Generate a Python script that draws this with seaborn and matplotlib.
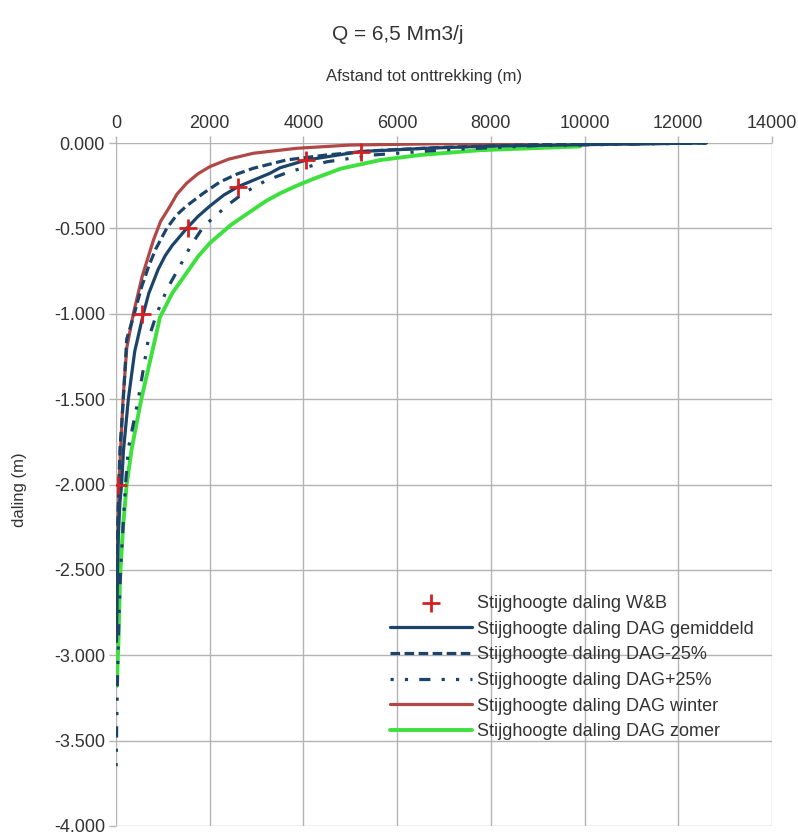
import numpy as np
import pandas as pd
import matplotlib
matplotlib.use("Agg")
import matplotlib.pyplot as plt
import seaborn as sns

# meetpunten W&B
wb_afstand = [50, 550, 1540, 2610, 4060, 5230]
wb_daling = [-2.0, -1.0, -0.5, -0.255, -0.1, -0.05]

# DAG gemiddeld
gem_afstand = [10, 25, 50, 85, 120, 160, 263, 400, 584, 700, 900, 1050, 1200, 1509, 1750, 2000,
               2300, 2611, 3288, 3501, 4060, 5209, 6700, 8000, 9906, 12600]
gem_daling = [-2.92, -2.6, -2.3, -2.1, -2.0, -1.8, -1.5, -1.22, -1.0, -0.88, -0.74, -0.66, -0.6,
              -0.5, -0.43, -0.37, -0.305, -0.255, -0.177, -0.145, -0.1, -0.05, -0.03, -0.018,
              -0.01, 0.0]

# DAG-25%
min_afstand = [5, 20, 40, 60, 85, 157, 228, 390, 550, 700, 850, 1082, 1300, 1500, 1865, 2220,
               2600, 2931, 3644, 4500, 5500, 7000, 9000, 12600]
min_daling = [-2.9, -2.5, -2.2, -2.0, -1.79, -1.5, -1.15, -1.0, -0.84, -0.72, -0.62, -0.5, -0.42,
              -0.37, -0.294, -0.228, -0.18, -0.148, -0.099, -0.07, -0.045, -0.025, -0.01, 0.0]

# DAG+25%
plus_afstand = [3, 15, 35, 60, 100, 160, 203, 263, 476, 690, 868, 1100, 1366, 1600, 1865, 2149,
                2450, 2718, 3200, 3715, 4500, 5500, 7000, 9000, 12600]
plus_daling = [-3.65, -3.4, -3.1, -2.8, -2.5, -2.2, -2.0, -1.79, -1.5, -1.15, -1.0, -0.85, -0.72,
               -0.6, -0.49, -0.42, -0.35, -0.294, -0.22, -0.167, -0.11, -0.07, -0.04, -0.015, 0.0]

# DAG winter
win_afstand = [20, 45, 80, 150, 230, 370, 560, 650, 797, 950, 1153, 1300, 1509, 1750, 2007,
               2400, 2931, 3857, 5000, 6700, 8000, 9000]
win_daling = [-2.6, -2.2, -1.9, -1.5, -1.2, -1.0, -0.78, -0.7, -0.57, -0.46, -0.37, -0.3, -0.235,
              -0.18, -0.138, -0.095, -0.06, -0.031, -0.012, -0.005, -0.002, 0.0]

# DAG zomer
zom_afstand = [15, 50, 85, 150, 228, 335, 540, 833, 939, 1200, 1509, 1750, 2007, 2450, 2931,
               3200, 3501, 3857, 4213, 4800, 5636, 6500, 7771, 9906]
zom_daling = [-3.18, -2.94, -2.55, -2.25, -2.0, -1.79, -1.5, -1.15, -1.02, -0.88, -0.76, -0.665,
              -0.585, -0.48, -0.39, -0.34, -0.295, -0.25, -0.21, -0.15, -0.1, -0.07, -0.042, -0.02]

sns.set_theme(style="white")
plt.rcParams['font.family'] = ['Liberation Sans', 'DejaVu Sans']

fig = plt.figure(figsize=(7.98, 8.36), dpi=100)
ax = fig.add_axes([116/798, 1-826/836, (772-116)/798, (826-143)/836])

blauw = "#1b4468"

sns.lineplot(x=zom_afstand, y=zom_daling, ax=ax, color="#3ee03e", lw=2.8,
             label="Stijghoogte daling DAG zomer", zorder=3)
sns.lineplot(x=win_afstand, y=win_daling, ax=ax, color="#b04848", lw=2.3,
             label="Stijghoogte daling DAG winter", zorder=3)
sns.lineplot(x=gem_afstand, y=gem_daling, ax=ax, color=blauw, lw=2.3,
             label="Stijghoogte daling DAG gemiddeld", zorder=4)
sns.lineplot(x=min_afstand, y=min_daling, ax=ax, color=blauw, lw=2.3,
             linestyle=(0, (3, 1.4)), label="Stijghoogte daling DAG-25%", zorder=4)
sns.lineplot(x=plus_afstand, y=plus_daling, ax=ax, color=blauw, lw=2.3,
             linestyle=(0, (1, 3.5, 1, 3.5, 3.5, 3.5)), label="Stijghoogte daling DAG+25%", zorder=4)
sns.scatterplot(x=wb_afstand, y=wb_daling, ax=ax, marker="+", s=170, color="#d42020",
                linewidth=2, label="Stijghoogte daling W&B", zorder=5)

ax.set_xlim(0, 14000)
ax.set_ylim(-4, 0)
ax.set_xticks(np.arange(0, 14001, 2000))
ax.set_yticks(np.arange(-4, 0.01, 0.5))
ax.yaxis.set_major_formatter(matplotlib.ticker.FormatStrFormatter('%.3f'))
ax.xaxis.tick_top()
ax.grid(True, color="#b3b3b3", lw=1)
for s in ax.spines.values():
    s.set_visible(False)
ax.tick_params(axis='both', labelsize=13, length=5, width=1,
               direction='out', color="#b3b3b3", labelcolor="#333333")
ax.tick_params(axis='x', top=True, bottom=False, pad=3)
ax.tick_params(axis='y', left=True, pad=3)
ax.set_xlabel("")
ax.set_ylabel("")

fig.text(398/798, 1-35/836, "Q = 6,5 Mm3/j", ha='center', va='center', fontsize=15, color="#333333")
fig.text(424/798, 1-76/836, "Afstand tot onttrekking (m)", ha='center', va='center', fontsize=12, color="#333333")
fig.text(20/798, 1-490/836, "daling (m)", ha='center', va='center', rotation=90, fontsize=12, color="#333333")

h, l = ax.get_legend_handles_labels()
# volgorde: W&B, gemiddeld, -25%, +25%, winter, zomer
order = [5, 2, 3, 4, 1, 0]
ax.legend([h[i] for i in order], [l[i] for i in order], loc='upper left',
          bbox_to_anchor=(390/798, 1-595/836), bbox_transform=fig.transFigure,
          frameon=False, fontsize=13, handlelength=4.55, handletextpad=0.28,
          labelspacing=0.48, borderpad=0, borderaxespad=0, labelcolor="#333333")

fig.savefig("out.png", dpi=100)
